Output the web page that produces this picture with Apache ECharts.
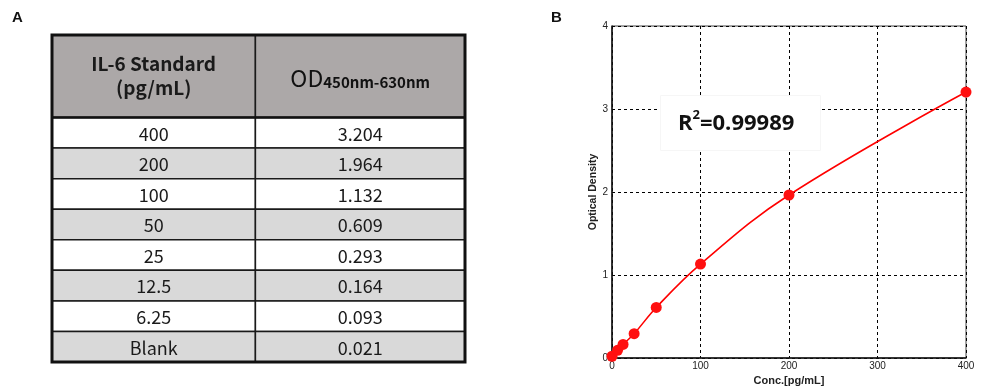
<!DOCTYPE html>
<html>
<head>
<meta charset="utf-8">
<script src="https://cdn.jsdelivr.net/npm/echarts@6/dist/echarts.min.js"></script>
<style>
  html, body { margin: 0; padding: 0; background: #fff; }
  #chart { width: 1000px; height: 392px; }
</style>
</head>
<body>
<div id="chart"></div>
<script>
// ---- data ----
const standardLabels = ['400', '200', '100', '50', '25', '12.5', '6.25', 'Blank'];
const standardConc = [400, 200, 100, 50, 25, 12.5, 6.25, 0];
const odValues = [3.204, 1.964, 1.132, 0.609, 0.293, 0.164, 0.093, 0.021];
const headerLine1 = 'IL-6 Standard';
const headerLine2 = '(pg/mL)';
const headerOD = 'OD';
const headerODSub = '450nm-630nm';
const r2Text = '0.99989';
const xTicks = [0, 100, 200, 300, 400];
const yTicks = [0, 1, 2, 3, 4];

// ---- layout constants for the table ----
const HEADER_UNITS = 2.7;     // header height measured in row units
const COL_SPLIT = 0.985;      // column divider position on 0..2 scale
const nRows = standardLabels.length;

const curveData = standardConc
  .map((c, i) => [c, odValues[i]])
  .sort((a, b) => a[0] - b[0]);

const tableCells = [];
for (let col = 0; col < 2; col++) tableCells.push([col, -1]);
for (let r = 0; r < nRows; r++) {
  tableCells.push([0, r]);
  tableCells.push([1, r]);
}

const cellFont = '"Noto Sans CJK SC", "Noto Sans", sans-serif';

function renderCell(params, api) {
  const col = api.value(0);
  const row = api.value(1);
  const x0 = col === 0 ? 0 : COL_SPLIT;
  const x1 = col === 0 ? COL_SPLIT : 2;
  const y0 = row < 0 ? 0 : HEADER_UNITS + row;
  const y1 = row < 0 ? HEADER_UNITS : HEADER_UNITS + row + 1;
  const p0 = api.coord([x0, y0]);
  const p1 = api.coord([x1, y1]);
  const fill = row < 0 ? '#aca8a8' : (row % 2 === 0 ? '#ffffff' : '#d9d9d9');
  const cx = (p0[0] + p1[0]) / 2;
  const cy = (p0[1] + p1[1]) / 2;
  const children = [{
    type: 'rect',
    shape: { x: p0[0], y: p0[1], width: p1[0] - p0[0], height: p1[1] - p0[1] },
    style: { fill: fill, stroke: '#1a1a1a', lineWidth: 1.5 }
  }];
  let textStyle;
  if (row < 0 && col === 0) {
    textStyle = {
      text: '{h|' + headerLine1 + '}\n{h|' + headerLine2 + '}',
      rich: { h: { fontSize: 19, fontWeight: 'bold', fontFamily: cellFont, fill: '#1a1a1a', lineHeight: 24 } },
      x: cx, y: cy, align: 'center', verticalAlign: 'middle'
    };
  } else if (row < 0 && col === 1) {
    textStyle = {
      text: '{a|' + headerOD + '}{b|' + headerODSub + '}',
      rich: {
        a: { fontSize: 23, fontFamily: cellFont, fill: '#111', verticalAlign: 'bottom', lineHeight: 28 },
        b: { fontSize: 15, fontWeight: 'bold', fontFamily: cellFont, fill: '#111', verticalAlign: 'bottom', lineHeight: 22 }
      },
      x: cx, y: cy, align: 'center', verticalAlign: 'middle'
    };
  } else {
    const txt = col === 0 ? standardLabels[row] : odValues[row].toFixed(3);
    textStyle = {
      text: txt, x: cx, y: cy + 1, align: 'center', verticalAlign: 'middle',
      fontSize: 18, fontFamily: cellFont, fill: '#1a1a1a'
    };
  }
  children.push({ type: 'text', style: textStyle });
  return { type: 'group', children: children };
}

function renderFrame(params, api) {
  const p0 = api.coord([0, 0]);
  const p1 = api.coord([2, HEADER_UNITS + nRows]);
  const ph = api.coord([0, HEADER_UNITS]);
  return {
    type: 'group',
    children: [
      { type: 'line', shape: { x1: p0[0], y1: ph[1], x2: p1[0], y2: ph[1] },
        style: { stroke: '#111', lineWidth: 2.5 } },
      { type: 'rect', shape: { x: p0[0], y: p0[1], width: p1[0] - p0[0], height: p1[1] - p0[1] },
        style: { fill: 'none', stroke: '#111', lineWidth: 3 } }
    ]
  };
}

const chart = echarts.init(document.getElementById('chart'), null, { renderer: 'canvas' });

const axisFont = '"Liberation Sans", Arial, sans-serif';

chart.setOption({
  backgroundColor: '#ffffff',
  animation: false,
  title: [
    { text: 'A', left: 12, top: 10, padding: 0,
      textStyle: { fontSize: 15, fontWeight: 'bold', color: '#111', fontFamily: axisFont } },
    { text: 'B', left: 551, top: 10, padding: 0,
      textStyle: { fontSize: 15, fontWeight: 'bold', color: '#111', fontFamily: axisFont } },
    { text: '{a|R}{b|2}{a|=' + r2Text + '}', left: 660, top: 95,
      backgroundColor: '#ffffff', borderColor: '#f6f6f6', borderWidth: 1,
      padding: [14, 26, 16, 18],
      textStyle: {
        rich: {
          a: { fontSize: 22, fontWeight: 'bold', color: '#111', fontFamily: '"Open Sans", sans-serif', lineHeight: 30 },
          b: { fontSize: 13, fontWeight: 'bold', color: '#111', fontFamily: '"Open Sans", sans-serif', verticalAlign: 'top', lineHeight: 18 }
        }
      } }
  ],
  grid: [
    { left: 612, top: 26, width: 354, height: 332, show: true, borderColor: '#444', borderWidth: 1, backgroundColor: 'transparent' },
    { left: 52, top: 35, width: 413, height: 327, show: false }
  ],
  xAxis: [
    {
      gridIndex: 0, type: 'value', min: xTicks[0], max: xTicks[xTicks.length - 1], interval: 100,
      name: 'Conc.[pg/mL]', nameLocation: 'middle', nameGap: 13,
      nameTextStyle: { fontSize: 11, fontWeight: 'bold', color: '#222', fontFamily: axisFont },
      axisLine: { lineStyle: { color: '#111', width: 1.5 } },
      axisTick: { show: false },
      axisLabel: { fontSize: 10, color: '#222', margin: 3, fontFamily: axisFont },
      splitLine: { show: true, lineStyle: { color: '#000', type: [3, 3], width: 1 } }
    },
    { gridIndex: 1, type: 'value', min: 0, max: 2, show: false }
  ],
  yAxis: [
    {
      gridIndex: 0, type: 'value', min: yTicks[0], max: yTicks[yTicks.length - 1], interval: 1,
      name: 'Optical Density', nameLocation: 'middle', nameGap: 13,
      nameTextStyle: { fontSize: 10.5, fontWeight: 'bold', color: '#222', fontFamily: axisFont },
      axisLine: { show: true, lineStyle: { color: '#111', width: 1.5 } },
      axisTick: { show: false },
      axisLabel: { fontSize: 10, color: '#222', margin: 4, fontFamily: axisFont },
      splitLine: { show: true, lineStyle: { color: '#000', type: [3, 3], width: 1 } }
    },
    { gridIndex: 1, type: 'value', min: 0, max: HEADER_UNITS + nRows, inverse: true, show: false }
  ],
  series: [
    {
      type: 'line', xAxisIndex: 0, yAxisIndex: 0, data: curveData, smooth: 0.4,
      symbol: 'circle', symbolSize: 11, z: 5,
      lineStyle: { color: '#ff0000', width: 1.6 },
      itemStyle: { color: '#ff1010' }
    },
    {
      type: 'custom', xAxisIndex: 1, yAxisIndex: 1, data: tableCells,
      renderItem: renderCell, clip: false, z: 2
    },
    {
      type: 'custom', xAxisIndex: 1, yAxisIndex: 1, data: [[0, 0]],
      renderItem: renderFrame, clip: false, z: 3
    }
  ]
});
</script>
</body>
</html>
